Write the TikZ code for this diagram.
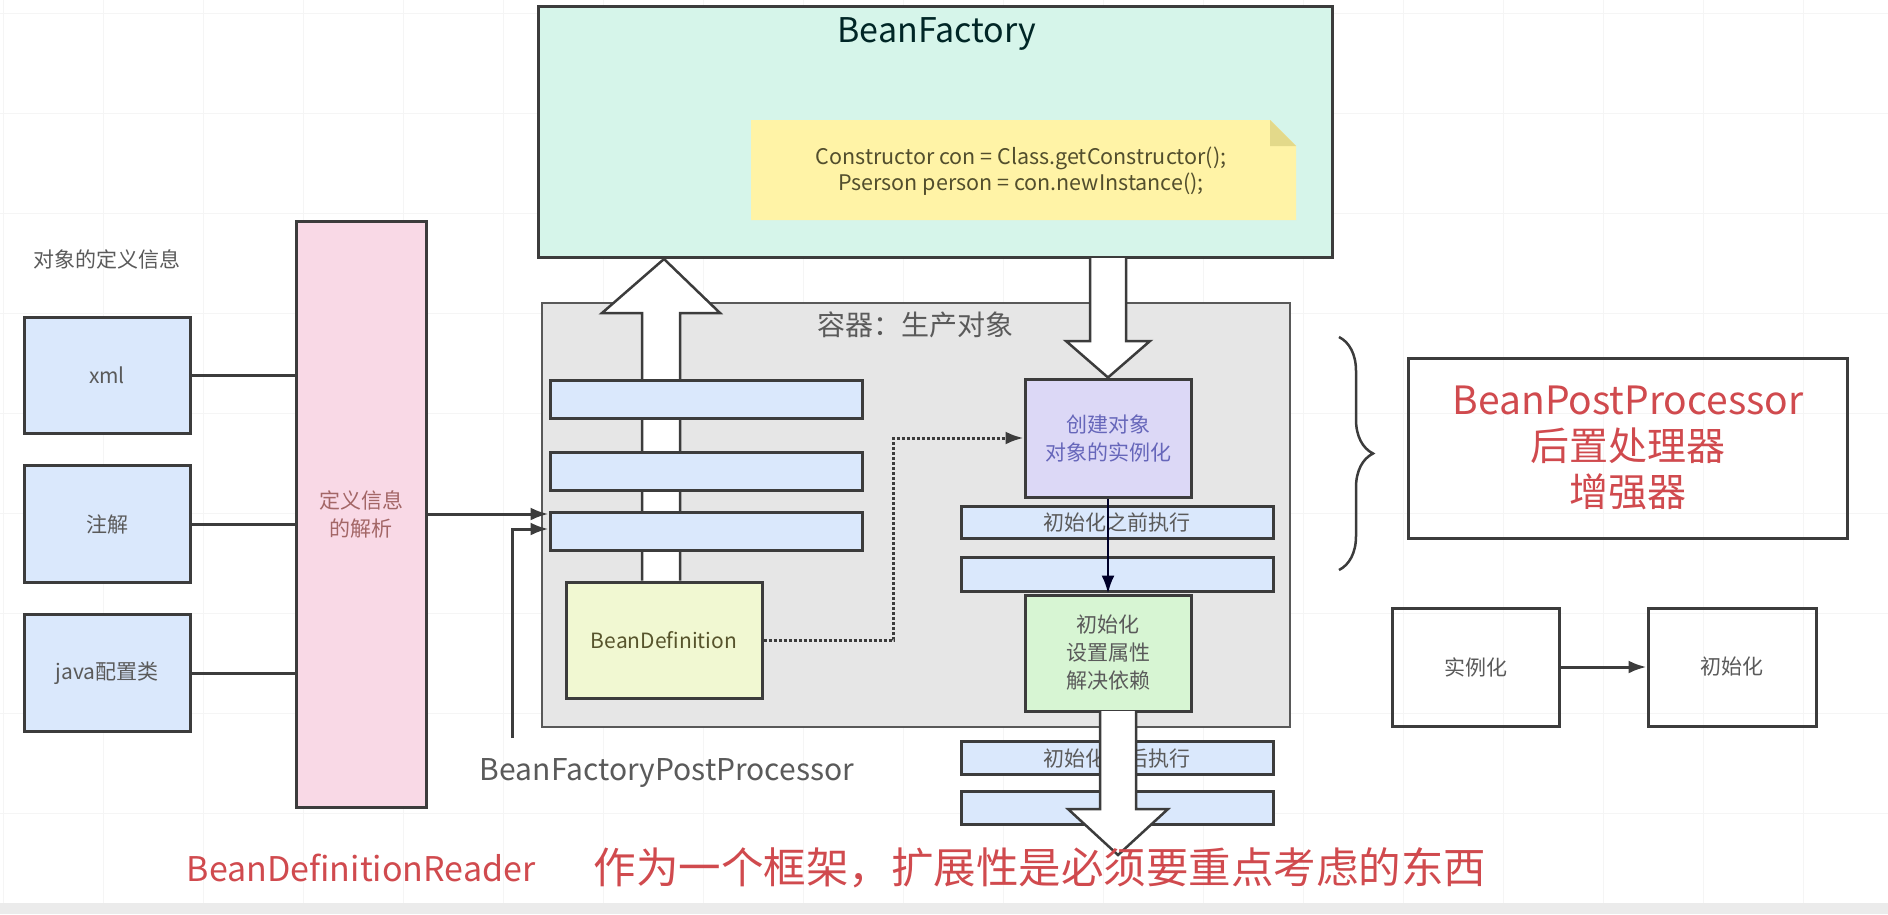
\documentclass[tikz,border=0pt]{standalone}
\usepackage{fontspec}
\setmainfont{Noto Sans CJK SC}
\usetikzlibrary{arrows.meta, decorations.pathreplacing}

\definecolor{edge}{HTML}{3C3C3C}
\definecolor{blueFill}{HTML}{DAE8FC}
\definecolor{pinkFill}{HTML}{F9D9E6}
\definecolor{mintFill}{HTML}{D6F5EA}
\definecolor{noteFill}{HTML}{FFF3A6}
\definecolor{foldFill}{HTML}{E3D98A}
\definecolor{boxGray}{HTML}{E6E6E6}
\definecolor{defFill}{HTML}{F1F8D2}
\definecolor{lilacFill}{HTML}{DCD8F6}
\definecolor{greenFill}{HTML}{D7F5D3}
\definecolor{redText}{HTML}{D04A4E}
\definecolor{grayText}{HTML}{5A5A5A}

\tikzset{
	box/.style = {draw = edge, line width = 3pt, align = center, text = grayText,
		font = \fontsize{21}{28}\selectfont},
	bar/.style = {box, fill = blueFill, minimum width = 312pt},
	hollow/.style = {draw = edge, line width = 2.5pt, fill = white, line join = miter},
	wire/.style = {draw = edge, line width = 3pt}
}

\begin{document}
\begin{tikzpicture}[x = 1pt, y = -1pt, > = {Latex[length = 18pt, width = 13pt]}]

	\useasboundingbox (0, 0) rectangle (1888, 914);

	% Grid

	\draw [black!4, line width = 1pt, xstep = 100pt, ystep = 100pt, shift = {(3pt, -13pt)}] (-3, -13) grid (1885, 901);
	\fill [black!8] (0, 903) rectangle (1888, 914);

	% Sources

	\node [text = grayText, font = \fontsize{21}{26}\selectfont] (info) at (107, 259) {对象的定义信息};
	\node [box, fill = blueFill, minimum width = 166pt, minimum height = 116pt] (xml) at (107, 375) {xml};
	\node [box, fill = blueFill, minimum width = 166pt, minimum height = 117pt] (anno) at (107, 524) {注解};
	\node [box, fill = blueFill, minimum width = 166pt, minimum height = 117pt] (javacfg) at (107, 673) {java配置类};

	\node [box, fill = pinkFill, minimum width = 130pt, minimum height = 586pt, text = black!60!red!60] (parse) at (361, 514) {定义信息\\的解析};

	\foreach \src in {xml, anno, javacfg}
		\draw [wire] (\src.east) -- (\src.east -| parse.west);

	% BeanFactory

	\node [box, fill = mintFill, minimum width = 794pt, minimum height = 251pt] (factory) at (935, 132) {};
	\node [text = black!70!teal, font = \fontsize{34}{40}\selectfont] (factoryname) at (937, 34) {BeanFactory};

	\fill [noteFill] (751, 120) -- (1270, 120) -- (1296, 146) -- (1296, 220) -- (751, 220) -- cycle;
	\fill [foldFill] (1270, 120) -- (1270, 146) -- (1296, 146) -- cycle;
	\node [text = black!55!olive, align = center, font = \fontsize{21.5}{26}\selectfont] (code) at (1021, 171)
		{Constructor con = Class.getConstructor();\\Pserson person = con.newInstance();};

	% Container

	\node [draw = black!65, line width = 2.5pt, fill = boxGray, minimum width = 748pt, minimum height = 424pt] (container) at (916, 515) {};
	\node [text = grayText, font = \fontsize{28}{34}\selectfont] (containername) at (915, 325) {容器：生产对象};

	\node [box, fill = defFill, minimum width = 196pt, minimum height = 116pt, text = black!50!olive] (beandef) at (664, 640) {BeanDefinition};

	% Up arrow (BeanDefinition -> BeanFactory)

	\draw [hollow] (beandef.north -| 642, 0) -- (642, 313) -- (602, 313) -- (factory.south -| beandef.north) -- (720, 313) -- (680, 313) -- (beandef.north -| 680, 0);

	\node [bar, minimum height = 38pt] (lbar1) at (706, 399) {};
	\node [bar, minimum height = 38pt] (lbar2) at (706, 471) {};
	\node [bar, minimum height = 38pt] (lbar3) at (706, 531) {};

	% Right column

	\node [box, fill = lilacFill, minimum width = 166pt, minimum height = 118pt, text = black!45!blue!60] (create) at (1108, 438) {创建对象\\对象的实例化};
	\node [bar, minimum height = 32pt] (rbar1) at (1117, 522) {初始化之前执行};
	\node [bar, minimum height = 34pt] (rbar2) at (1117, 574) {};
	\node [box, fill = greenFill, minimum width = 166pt, minimum height = 116pt] (init) at (1108, 653) {初始化\\设置属性\\解决依赖};
	\node [bar, minimum height = 33pt] (rbar3) at (1117, 758) {初始化之后执行};
	\node [bar, minimum height = 33pt] (rbar4) at (1117, 808) {};

	\draw [hollow] (1090, 258) -- (1090, 341) -- (1066, 341) -- (create.north) -- (1150, 341) -- (1126, 341) -- (1126, 258);
	\draw [hollow] (1100, 711) -- (1100, 809) -- (1068, 809) -- (1118, 855) -- (1168, 809) -- (1136, 809) -- (1136, 711);

	\draw [->, line width = 2.5pt, black!60!blue!40!black] (create) -- (init);
	\draw [->, wire, dotted] (beandef.east) -- ++(130, 0) |- (create.west);

	% Readers

	\draw [->, wire] (parse.east) -- (parse.east -| lbar3.west);
	\coordinate (hook) at (512, 738);
	\draw [->, wire] (hook) |- ([yshift = 2pt] lbar3.west);

	\node [text = grayText, font = \fontsize{30}{34}\selectfont] (bfpp) at (667, 773) {BeanFactoryPostProcessor};
	\node [text = redText, font = \fontsize{34}{40}\selectfont] (reader) at (361, 868) {BeanDefinitionReader};
	\node [text = redText, font = \fontsize{42.5}{48}\selectfont] (slogan) at (1040, 868) {作为一个框架，扩展性是必须要重点考虑的东西};

	% BeanPostProcessor

	\draw [draw = edge, line width = 2.5pt, decorate, decoration = {brace, amplitude = 34pt}] (1339, 337) -- (1339, 570);

	\node [box, minimum width = 439pt, minimum height = 180pt, text = redText, font = \fontsize{39}{46}\selectfont] (bpp) at (1628, 448)
		{BeanPostProcessor\\后置处理器\\增强器};

	\node [box, minimum width = 167pt, minimum height = 118pt] (inst) at (1476, 667) {实例化};
	\node [box, minimum width = 168pt, minimum height = 118pt] (initR) at (1732, 667) {初始化};

	\draw [->, wire] (inst) -- (initR);

\end{tikzpicture}
\end{document}
